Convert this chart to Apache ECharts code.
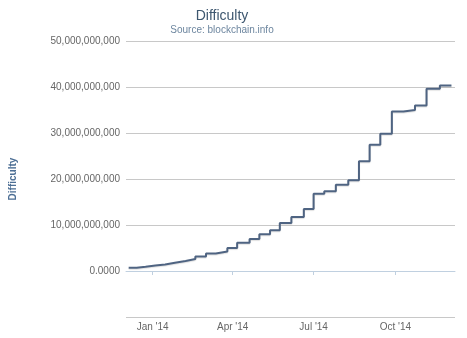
<!DOCTYPE html>
<html>
<head>
<meta charset="utf-8">
<script src="https://cdn.jsdelivr.net/npm/echarts@6/dist/echarts.min.js"></script>
<style>
html,body{margin:0;padding:0;background:#fff;}
#chart{width:467px;height:338px;}
</style>
</head>
<body>
<div id="chart"></div>
<script>
// Step change dates and difficulty values
const dates = [
  '2013-12-05','2013-12-14','2013-12-24','2014-01-04','2014-01-15','2014-01-26',
  '2014-02-07','2014-02-18','2014-03-02','2014-03-13','2014-03-26','2014-04-06',
  '2014-04-20','2014-05-01','2014-05-13','2014-05-24','2014-06-06','2014-06-20',
  '2014-07-01','2014-07-13','2014-07-26','2014-08-09','2014-08-21','2014-09-02',
  '2014-09-14','2014-09-27','2014-10-10','2014-10-23','2014-11-05','2014-11-20',
  '2014-12-03'
];
const difficulty = [
  707408283, 908350862, 1180923195, 1418481395, 1789546951, 2193847870,
  2621404453, 3129573175, 3815723799, 4250217920, 5006860589, 6119726089,
  6978842650, 8000872136, 8853416309, 10455720138, 11756551917, 13462580115,
  16818461371, 17336316979, 18736441558, 19729645941, 23844670039, 27428630902,
  29829733124, 34661425924, 35002482026, 35985640265, 39603666252, 40300030238,
  40300030238
];
const xTickDates = ['2014-01-01','2014-04-01','2014-07-01','2014-10-01'];
const xTickLabels = ["Jan '14","Apr '14","Jul '14","Oct '14"];

function ts(d) { return Date.UTC(+d.slice(0, 4), +d.slice(5, 7) - 1, +d.slice(8, 10)); }
const seriesData = dates.map((d, i) => [ts(d), difficulty[i]]);
const xTickValues = xTickDates.map(ts);

function fmtNum(v) {
  if (v === 0) return '0.0000';
  if (v < 0) return '';
  return String(Math.round(v)).replace(/\B(?=(\d{3})+(?!\d))/g, ',');
}

const chart = echarts.init(document.getElementById('chart'));
chart.setOption({
  animation: false,
  backgroundColor: '#ffffff',
  title: [
    { text: 'Difficulty', left: 217, top: 4, textAlign: 'center',
      textStyle: { fontFamily: 'Liberation Sans', fontSize: 14, fontWeight: 'normal', color: '#3E576F' } },
    { text: 'Source: blockchain.info', left: 217, top: 20, textAlign: 'center',
      textStyle: { fontFamily: 'Liberation Sans', fontSize: 10, fontWeight: 'normal', color: '#6D869F' } }
  ],
  grid: { left: 122, right: 12, top: 41, bottom: 21, containLabel: false },
  xAxis: {
    type: 'value',
    min: ts('2013-12-02'),
    max: ts('2014-12-07'),
    axisLine: { show: true, lineStyle: { color: '#C0D0E0', width: 1 } },
    axisTick: { show: true, length: 4, customValues: xTickValues, lineStyle: { color: '#C0D0E0' } },
    splitLine: { show: false },
    axisLabel: {
      color: '#666666', fontFamily: 'Liberation Sans', fontSize: 10, margin: 5,
      customValues: xTickValues,
      showMinLabel: true, showMaxLabel: true,
      formatter: function (val) {
        const idx = xTickValues.indexOf(+val);
        return idx >= 0 ? xTickLabels[idx] : '';
      }
    }
  },
  yAxis: {
    type: 'value',
    min: -10e9,
    max: 50e9,
    interval: 10e9,
    name: 'Difficulty',
    nameLocation: 'middle',
    nameRotate: 90,
    nameGap: 108,
    nameTextStyle: { color: '#4D6F95', fontFamily: 'Liberation Sans', fontSize: 10, fontWeight: 'bold' },
    axisLine: { show: false },
    axisTick: { show: false },
    splitLine: { show: true, lineStyle: { color: '#C8C8C8', width: 1 } },
    axisLabel: {
      color: '#666666', fontFamily: 'Liberation Sans', fontSize: 10, margin: 6,
      formatter: fmtNum
    }
  },
  series: [{
    type: 'line',
    step: 'end',
    data: seriesData,
    showSymbol: false,
    symbol: 'none',
    lineStyle: { color: '#4F6482', width: 2, shadowColor: 'rgba(0,0,0,0.12)', shadowBlur: 1, shadowOffsetY: 1 },
    z: 5
  }]
});
</script>
</body>
</html>
